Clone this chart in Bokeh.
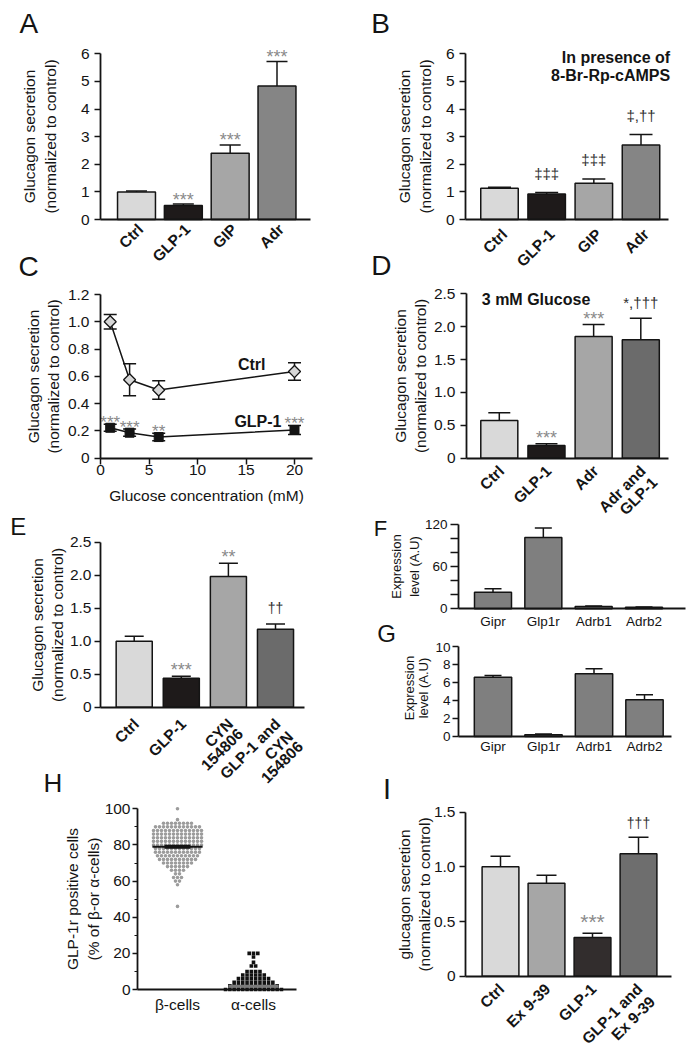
import math
from bokeh.plotting import figure
from bokeh.layouts import row, column
from bokeh.models import (Range1d, FixedTicker, Whisker, TeeHead, ColumnDataSource,
                          Label, LabelSet)
from bokeh.embed import file_html
from bokeh.resources import INLINE
from bokeh.core.properties import value

FONT = "Liberation Sans"
INK = "#141414"

# ---------------- data ----------------
A_categories = ["Ctrl", "GLP-1", "GIP", "Adr"]
A_values = [1.00, 0.51, 2.40, 4.83]
A_errors = [0.03, 0.05, 0.30, 0.89]
A_marks = ["", "***", "***", "***"]
A_yticks = [0, 1, 2, 3, 4, 5, 6]
A_ytick_labels = ["0", "1", "2", "3", "4", "5", "6"]

B_categories = ["Ctrl", "GLP-1", "GIP", "Adr"]
B_values = [1.13, 0.92, 1.31, 2.70]
B_errors = [0.04, 0.06, 0.16, 0.38]
B_marks = ["", "‡‡‡", "‡‡‡", "‡,††"]
B_note = ["In presence of", "8-Br-Rp-cAMPS"]

C_glucose = [1, 3, 6, 20]
C_ctrl = [1.00, 0.575, 0.50, 0.635]
C_ctrl_err = [0.053, 0.118, 0.068, 0.064]
C_glp1 = [0.223, 0.187, 0.155, 0.207]
C_glp1_err = [0.025, 0.027, 0.027, 0.033]
C_marks = ["***", "***", "**", "***"]
C_series = ["Ctrl", "GLP-1"]
C_xticks = [0, 5, 10, 15, 20]
C_yticks = [0, 0.2, 0.4, 0.6, 0.8, 1.0, 1.2]
C_ytick_labels = ["0", "0.2", "0.4", "0.6", "0.8", "1.0", "1.2"]

D_categories = ["Ctrl", "GLP-1", "Adr", "Adr and\nGLP-1"]
D_values = [0.573, 0.193, 1.85, 1.80]
D_errors = [0.117, 0.026, 0.183, 0.33]
D_marks = ["", "***", "***", "*,†††"]
D_note = "3 mM Glucose"
D_yticks = [0, 0.5, 1.0, 1.5, 2.0, 2.5]
D_ytick_labels = ["0", "0.5", "1.0", "1.5", "2.0", "2.5"]

E_categories = ["Ctrl", "GLP-1", "CYN\n154806", "GLP-1 and\nCYN\n154806"]
E_values = [1.00, 0.44, 1.98, 1.18]
E_errors = [0.075, 0.03, 0.20, 0.08]
E_marks = ["", "***", "**", "††"]
E_yticks = [0, 0.5, 1.0, 1.5, 2.0, 2.5]
E_ytick_labels = ["0", "0.5", "1.0", "1.5", "2.0", "2.5"]

F_genes = ["Gipr", "Glp1r", "Adrb1", "Adrb2"]
F_values = [23.5, 101.0, 3.3, 2.3]
F_errors = [4.8, 13.3, 0.6, 0.4]
F_yticks = [0, 20, 40, 60, 80, 100, 120]
F_ytick_labels = ["0", "", "", "60", "", "", "120"]

G_genes = ["Gipr", "Glp1r", "Adrb1", "Adrb2"]
G_values = [6.59, 0.19, 6.96, 4.07]
G_errors = [0.19, 0.10, 0.56, 0.56]
G_yticks = [0, 2, 4, 6, 8, 10]
G_ytick_labels = ["0", "2", "4", "6", "8", "10"]
G_title = ["Expression", "level (A.U)"]

H_groups = ["β-cells", "α-cells"]
H_beta_levels = [100, 94, 92, 90, 88, 86, 84, 82, 80, 78, 76, 74, 72, 70, 68, 66, 64, 62, 60, 58, 46]
H_beta_counts = [1, 1, 8, 12, 13, 13, 13, 13, 13, 12, 12, 11, 10, 8, 6, 4, 2, 3, 2, 1, 1]
H_alpha_levels = [20, 18, 15, 13, 10, 8, 6, 4, 2, 0]
H_alpha_counts = [3, 1, 1, 2, 4, 6, 8, 10, 12, 14]
H_beta_median = 79
H_alpha_median = 1.8
H_yticks = [0, 20, 40, 60, 80, 100]
H_yminor = [10, 30, 50, 70, 90]
H_ytick_labels = ["0", "20", "40", "60", "80", "100"]

I_categories = ["Ctrl", "Ex 9-39", "GLP-1", "GLP-1 and\nEx 9-39"]
I_values = [1.00, 0.85, 0.354, 1.12]
I_errors = [0.098, 0.074, 0.039, 0.151]
I_marks = ["", "", "***", "†††"]
I_yticks = [0, 0.5, 1.0, 1.5]
I_ytick_labels = ["0", "0.5", "1.0", "1.5"]

# ---------------- styles ----------------
LIGHT = "#d9d9d9"
DARK = "#1e1a1a"
MID = "#a6a6a6"
ADR = "#858585"
COMBO = "#6b6b6b"
EXPR = "#7f7f7f"
A_colors = [LIGHT, DARK, MID, ADR]
B_colors = [LIGHT, DARK, MID, ADR]
D_colors = [LIGHT, DARK, MID, COMBO]
E_colors = [LIGHT, DARK, MID, COMBO]
F_colors = [EXPR] * 4
G_colors = [EXPR] * 4
I_colors = [LIGHT, MID, "#322d2d", "#6e6e6e"]

GLUCAGON = "Glucagon secretion\n(normalized to control)"


def make_fig(origin, W, H, axes_box, xmap, ymap):
    """All pixel positions are page pixels; the frame covers the whole figure
    and the axes are pinned at fixed data locations."""
    ox, oy = origin
    L, R, B = axes_box
    xa, pxa, xb, pxb = xmap
    ya, pya, yb, pyb = ymap
    sx = (pxb - pxa) / (xb - xa)
    sy = (pyb - pya) / (yb - ya)

    def dx(px):
        return xa + (px - pxa) / sx

    def dy(py):
        return ya + (py - pya) / sy

    p = figure(width=W, height=H, x_range=Range1d(dx(ox), dx(ox + W)),
               y_range=Range1d(dy(oy + H), dy(oy)),
               output_backend="svg", toolbar_location=None,
               min_border_left=0, min_border_right=0, min_border_top=0, min_border_bottom=0)
    p.title.visible = False
    p.outline_line_color = None
    p.xgrid.visible = False
    p.ygrid.visible = False
    p.background_fill_color = "white"
    p.border_fill_color = "white"
    p.yaxis.fixed_location = dx(L)
    p.xaxis.fixed_location = dy(B)
    p.xaxis.bounds = (dx(L), dx(R))

    def at(px, py):
        return dx(px), dy(py)
    return p, at


def style_axis(ax, tick_fs="15.5px", tick_out=6, label_standoff=5,
               title_fs="15.5px", title_standoff=10):
    ax.axis_line_color = INK
    ax.axis_line_width = 1.8
    ax.major_tick_line_color = INK
    ax.major_tick_line_width = 1.5
    ax.major_tick_in = 0
    ax.major_tick_out = tick_out
    ax.minor_tick_line_color = None
    ax.major_label_text_font = FONT
    ax.major_label_text_font_size = tick_fs
    ax.major_label_text_color = INK
    ax.major_label_standoff = label_standoff
    ax.axis_label_text_font = FONT
    ax.axis_label_text_font_size = title_fs
    ax.axis_label_text_font_style = "normal"
    ax.axis_label_text_color = INK
    ax.axis_label_standoff = title_standoff


def letter(p, at, txt, px, baseline, fs):
    # text is centred on the em box: its middle lies 0.3465 em above the baseline
    x, y = at(px, baseline - 0.3465 * fs)
    p.add_layout(Label(x=x, y=y, text=txt, text_font=FONT, text_font_size=f"{fs}px",
                       text_color=INK, text_align="left", text_baseline="middle"))


def note(p, at, txt, px, py, align, fs="16px"):
    x, y = at(px, py)
    p.add_layout(Label(x=x, y=y, text=txt, text_font=FONT, text_font_size=fs,
                       text_font_style="bold", text_color=INK, text_align=align,
                       text_baseline="middle"))


def add_marks(p, xs, ys, marks, ast_fs, ast_dy, dag_fs, dag_dy, ast_color="#8a8a8a"):
    def is_ast(m):
        return m != "" and all(c == "*" for c in m)
    ai = [i for i, m in enumerate(marks) if is_ast(m)]
    di = [i for i, m in enumerate(marks) if m != "" and not is_ast(m)]
    if ai:
        p.text(x=[xs[i] for i in ai], y=[ys[i] for i in ai], text=[marks[i] for i in ai],
               text_align="center", text_baseline="middle", y_offset=ast_dy,
               text_font=value(FONT), text_font_size=ast_fs, text_color=ast_color)
    if di:
        p.text(x=[xs[i] for i in di], y=[ys[i] for i in di], text=[marks[i] for i in di],
               text_align="center", text_baseline="middle", y_offset=dag_dy,
               text_font=value(FONT), text_font_size=dag_fs, text_color="#2e2e2e")


def bar_panel(p, cats, vals, errs, colors, width, cap, yticks, ylabels, ytitle,
              title_standoff, rotated=True, cat_dx=0, cat_dy=0, marks=None,
              ast_fs="18px", ast_dy=-5, dag_fs="14px", dag_dy=-16,
              tick_fs="15.5px", tick_out=6, tick_standoff=5, title_fs="15.5px",
              cat_fs="15.5px", cat_standoff=5, line_gap=18):
    n = len(cats)
    xs = list(range(n))
    tops = [v + e for v, e in zip(vals, errs)]
    src = ColumnDataSource(dict(x=xs, top=vals, up=tops, color=colors))
    p.add_layout(Whisker(source=src, base="x", lower="top", upper="up", dimension="height",
                         line_color=INK, line_width=1.5,
                         upper_head=TeeHead(size=cap, line_color=INK, line_width=1.5),
                         lower_head=None))
    p.vbar(x="x", top="top", bottom=0, width=width, source=src, fill_color="color",
           line_color=INK, line_width=1.5)
    style_axis(p.yaxis[0], tick_fs=tick_fs, tick_out=tick_out, label_standoff=tick_standoff,
               title_fs=title_fs, title_standoff=title_standoff)
    p.yaxis.ticker = FixedTicker(ticks=yticks)
    p.yaxis.major_label_overrides = {t: l for t, l in zip(yticks, ylabels)}
    p.yaxis.bounds = (yticks[0], yticks[-1])
    if ytitle:
        p.yaxis.axis_label = ytitle
    style_axis(p.xaxis[0], tick_fs=cat_fs, tick_out=0, label_standoff=cat_standoff)
    if rotated:
        p.xaxis.ticker = FixedTicker(ticks=[])
        lx, ly, lt, lxo, lyo = [], [], [], [], []
        step = line_gap * math.sqrt(0.5)
        for i, c in enumerate(cats):
            for k, part in enumerate(c.split("\n")):
                lx.append(xs[i])
                ly.append(0)
                lt.append(part)
                lxo.append(cat_dx + k * step)
                lyo.append(cat_dy - k * step)
        lsrc = ColumnDataSource(dict(x=lx, y=ly, text=lt, xo=lxo, yo=lyo))
        p.add_layout(LabelSet(x="x", y="y", text="text", source=lsrc, angle=math.pi / 4,
                              x_offset="xo", y_offset="yo", text_align="right",
                              text_baseline="top", text_font=value(FONT),
                              text_font_style="bold", text_font_size=cat_fs,
                              text_color=INK))
    else:
        p.xaxis.ticker = FixedTicker(ticks=xs)
        p.xaxis.major_label_overrides = {x: c for x, c in zip(xs, cats)}
    if marks:
        add_marks(p, xs, tops, marks, ast_fs, ast_dy, dag_fs, dag_dy)


# ---------------- A ----------------
pA, atA = make_fig((0, 0), 348, 284, (100, 310, 219), (0, 136, 3, 276.5), (0, 219, 6, 53.3))
bar_panel(pA, A_categories, A_values, A_errors, A_colors, 0.81, 21, A_yticks, A_ytick_labels,
          GLUCAGON, 19, cat_dx=-2, cat_dy=-1, marks=A_marks, ast_dy=-4.5)
letter(pA, atA, "A", 19, 33, 28)
letter(pA, atA, "C", 18, 276, 28)

# ---------------- B ----------------
pB, atB = make_fig((348, 0), 348, 284, (465, 668, 219), (0, 499, 3, 640.5), (0, 219, 6, 53.3))
bar_panel(pB, B_categories, B_values, B_errors, B_colors, 0.795, 23, A_yticks, A_ytick_labels,
          GLUCAGON, 9, cat_dx=-1, cat_dy=-6, marks=B_marks, dag_fs="15px", dag_dy=-19)
for i, line in enumerate(B_note):
    note(pB, atB, line, 669.7, 57 + 18 * i, "right")
letter(pB, atB, "B", 370.7, 33, 28)
letter(pB, atB, "D", 370.7, 275, 28)

# ---------------- C ----------------
pC, atC = make_fig((0, 284), 348, 228, (100, 312, 457.7), (0, 100, 20, 294), (0, 457.7, 1.2, 294))
c_src = ColumnDataSource(dict(
    x=C_glucose, ctrl=C_ctrl, glp=C_glp1,
    c_lo=[v - e for v, e in zip(C_ctrl, C_ctrl_err)], c_hi=[v + e for v, e in zip(C_ctrl, C_ctrl_err)],
    g_lo=[v - e for v, e in zip(C_glp1, C_glp1_err)], g_hi=[v + e for v, e in zip(C_glp1, C_glp1_err)]))
for lo, hi in (("c_lo", "c_hi"), ("g_lo", "g_hi")):
    pC.add_layout(Whisker(source=c_src, base="x", lower=lo, upper=hi, dimension="height",
                          line_color=INK, line_width=1.5,
                          upper_head=TeeHead(size=13, line_color=INK, line_width=1.5),
                          lower_head=TeeHead(size=13, line_color=INK, line_width=1.5)))
pC.line("x", "ctrl", source=c_src, line_color=INK, line_width=1.5)
pC.line("x", "glp", source=c_src, line_color=INK, line_width=1.5)
pC.scatter("x", "ctrl", source=c_src, marker="square", angle=math.pi / 4, size=8.5,
           fill_color="#d6d6d6", line_color=INK, line_width=1.3)
pC.scatter("x", "glp", source=c_src, marker="square", size=9, fill_color=INK,
           line_color=INK, line_width=1)
add_marks(pC, C_glucose, [v + e for v, e in zip(C_glp1, C_glp1_err)], C_marks,
          "17px", -2, "14px", -10)
style_axis(pC.yaxis[0], title_standoff=3)
style_axis(pC.xaxis[0], label_standoff=1, title_standoff=8)
pC.yaxis.ticker = FixedTicker(ticks=C_yticks)
pC.yaxis.major_label_overrides = {t: l for t, l in zip(C_yticks, C_ytick_labels)}
pC.yaxis.bounds = (0, 1.2)
pC.yaxis.axis_label = GLUCAGON
pC.xaxis.ticker = FixedTicker(ticks=C_xticks)
pC.xaxis.axis_label = "Glucose concentration (mM)"
note(pC, atC, C_series[0], 265, 364, "right")
note(pC, atC, C_series[1], 281, 420.7, "right")

# ---------------- D ----------------
pD, atD = make_fig((348, 284), 348, 233, (466, 668, 457.7), (0, 498.8, 3, 640.3), (0, 457.7, 2.5, 293.3))
bar_panel(pD, D_categories, D_values, D_errors, D_colors, 0.785, 22, D_yticks, D_ytick_labels,
          GLUCAGON, 2, cat_dx=-4, cat_dy=-4, marks=D_marks, ast_dy=-5.5, dag_fs="15px", dag_dy=-16,
          line_gap=16.5)
note(pD, atD, D_note, 481.3, 299, "left")

# ---------------- E ----------------
pE, atE = make_fig((0, 512), 348, 287, (100, 304, 706.7), (0, 133.7, 3, 275), (0, 706.7, 2.5, 541.7))
bar_panel(pE, E_categories, E_values, E_errors, E_colors, 0.766, 19, E_yticks, E_ytick_labels,
          GLUCAGON, 1, cat_dx=-4, cat_dy=-8, marks=E_marks, ast_dy=-6, dag_dy=-16,
          tick_standoff=3)
letter(pE, atE, "E", 9.7, 534, 24)
letter(pE, atE, "H", 43, 792, 26)

# ---------------- F ----------------
pF, atF = make_fig((348, 517), 348, 125, (458, 685, 608.3), (0, 492.5, 3, 643.5), (0, 608.3, 120, 523.5))
bar_panel(pF, F_genes, F_values, F_errors, F_colors, 0.735, 17, F_yticks, F_ytick_labels,
          "Expression\nlevel (A.U)", 0, rotated=False, tick_fs="13.5px", tick_out=8,
          tick_standoff=3, title_fs="13px", cat_fs="13.5px", cat_standoff=5)
letter(pF, atF, "F", 373.2, 536, 22)
letter(pF, atF, "G", 376.8, 641.5, 24)

# ---------------- G ----------------
pG, atG = make_fig((348, 642), 348, 123, (458, 671, 736), (0, 492.5, 3, 644), (0, 736, 10, 646))
bar_panel(pG, G_genes, G_values, G_errors, G_colors, 0.74, 17, G_yticks, G_ytick_labels,
          None, 0, rotated=False, tick_fs="13.5px", tick_out=6,
          tick_standoff=2, title_fs="13px", cat_fs="13.5px", cat_standoff=2)
for k, t in enumerate(G_title):
    gx, gy = atG(408.8 + 14 * k, 687.5)
    pG.add_layout(Label(x=gx, y=gy, text=t, angle=math.pi / 2, text_align="center",
                        text_baseline="middle", text_font=FONT, text_font_size="13px",
                        text_color=INK))

# ---------------- H ----------------
pH, atH = make_fig((0, 799), 348, 249, (137, 296, 989), (0, 177, 1, 253), (0, 989, 100, 808.3))
DX_B = 4.0 / 76
DX_A = 4.3 / 76


def swarm(levels, counts, center, dx):
    xs, ys = [], []
    for lv, n in zip(levels, counts):
        for i in range(n):
            xs.append(center + (i - (n - 1) / 2) * dx)
            ys.append(lv)
    return xs, ys


bx, by = swarm(H_beta_levels, H_beta_counts, 0, DX_B)
ax_, ay = swarm(H_alpha_levels, H_alpha_counts, 1, DX_A)
pH.scatter(bx, by, marker="circle", size=3.6, fill_color="#9c9c9c", line_color=None)
pH.scatter(ax_, ay, marker="square", size=3.6, fill_color="#111111", line_color=None)
pH.segment(x0=[-0.33], x1=[0.33], y0=[H_beta_median], y1=[H_beta_median], line_color=INK, line_width=2)
pH.segment(x0=[-0.17], x1=[0.17], y0=[H_beta_median], y1=[H_beta_median], line_color=INK, line_width=4)
pH.segment(x0=[0.67], x1=[1.33], y0=[H_alpha_median], y1=[H_alpha_median], line_color="#7a7a7a", line_width=3)
style_axis(pH.yaxis[0], tick_out=5, label_standoff=2, title_standoff=0)
pH.yaxis.ticker = FixedTicker(ticks=H_yticks, minor_ticks=H_yminor)
pH.yaxis.major_label_overrides = {t: l for t, l in zip(H_yticks, H_ytick_labels)}
pH.yaxis.minor_tick_line_color = INK
pH.yaxis.minor_tick_line_width = 1.2
pH.yaxis.minor_tick_in = 0
pH.yaxis.minor_tick_out = 3
pH.yaxis.bounds = (0, 100)
pH.yaxis.axis_label = "GLP-1r positive cells\n(% of β-or α-cells)"
style_axis(pH.xaxis[0], tick_out=0, label_standoff=6)
pH.xaxis.ticker = FixedTicker(ticks=[0, 1])
pH.xaxis.major_label_overrides = {0: H_groups[0], 1: H_groups[1]}

# ---------------- I ----------------
pI, atI = make_fig((348, 765), 348, 283, (465, 671, 975.7), (0, 500, 3, 638), (0, 975.7, 1.5, 811.7))
bar_panel(pI, I_categories, I_values, I_errors, I_colors, 0.80, 20, I_yticks, I_ytick_labels,
          "glucagon secretion\n(normalized to control)", -2, cat_dx=-5, cat_dy=-4, marks=I_marks,
          ast_fs="21px", ast_dy=-11.5, dag_dy=-14, tick_standoff=4)
letter(pI, atI, "I", 382.4, 799, 29)

layout = row(column(pA, pC, pE, pH), column(pB, pD, pF, pG, pI))
with open("out.html", "w", encoding="utf-8") as f:
    f.write(file_html(layout, INLINE, title="Glucagon secretion"))
